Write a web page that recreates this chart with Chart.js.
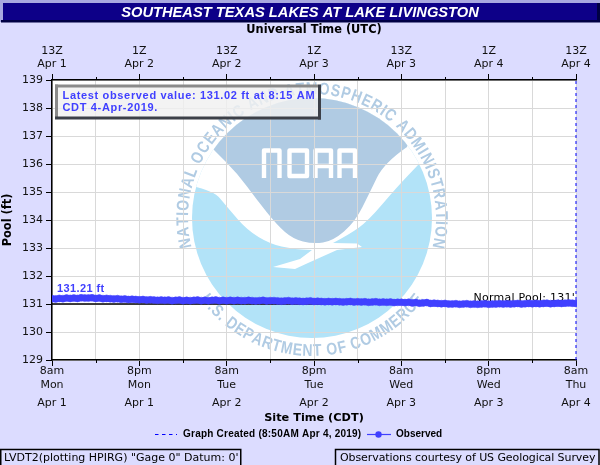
<!DOCTYPE html>
<html><head><meta charset="utf-8">
<style>html,body{margin:0;padding:0;background:#dcdcff}canvas{display:block}</style>
<script src="https://cdn.jsdelivr.net/npm/chart.js@4"></script></head>
<body><canvas id="c" width="600" height="465"></canvas>
<script>
const chartTitle="SOUTHEAST TEXAS LAKES AT LAKE LIVINGSTON";
const topTitle="Universal Time (UTC)";
const bottomTitle="Site Time (CDT)";
const yTitle="Pool (ft)";
const utcLabels=[["13Z","Apr 1"],["1Z","Apr 2"],["13Z","Apr 2"],["1Z","Apr 3"],["13Z","Apr 3"],["1Z","Apr 4"],["13Z","Apr 4"]];
const siteLabels=[["8am","Mon"],["8pm","Mon"],["8am","Tue"],["8pm","Tue"],["8am","Wed"],["8pm","Wed"],["8am","Thu"]];
const dateLabels=["Apr 1","Apr 1","Apr 2","Apr 2","Apr 3","Apr 3","Apr 4"];
// Pool level read every half hour from 8am Apr 1
const observed=[131.19,131.18,131.2,131.19,131.21,131.2,131.21,131.2,131.22,
131.21,131.21,131.22,131.2,131.21,131.19,131.2,131.19,
131.18,131.19,131.17,131.18,131.16,131.17,131.16,131.15,131.16,131.14,131.15,
131.14,131.13,131.14,131.13,131.14,131.12,131.13,131.14,131.12,131.13,131.12,131.13,131.14,131.12,131.13,131.12,131.13,131.14,131.12,131.13,131.12,131.13,131.12,131.13,131.12,131.12,131.13,131.12,131.11,131.12,131.13,131.11,131.12,
131.12,131.11,131.1,131.11,131.12,131.1,131.11,131.1,131.09,131.1,131.11,131.09,131.1,131.09,131.08,131.09,
131.08,131.09,131.08,131.07,131.08,131.09,131.07,131.08,131.07,131.08,131.06,131.07,131.08,131.06,131.07,131.06,131.07,131.05,131.06,131.06,
131.05,131.06,131.04,131.05,131.03,131.04,131.05,131.02,131.03,131.02,131.01,131.02,131.0,
131.0,131.01,130.99,131.0,131.01,130.99,131.0,130.99,131.0,131.01,130.99,131.0,131.0,131.01,
131.0,131.01,131.0,131.01,131.02,131.0,131.01,131.02,131.01,
131.02,131.01,131.02,131.03,131.01,131.02,131.03,131.02,131.03,131.04,131.03,131.02];
const normalPool=131;
const normalLabel="Normal Pool: 131'";
const firstLabel="131.21 ft";
const graphCreatedHour=72;
const latestLines=["Latest observed value: 131.02 ft at 8:15 AM","CDT 4-Apr-2019."];
const leftFooter="LVDT2(plotting HPIRG) \"Gage 0\" Datum: 0'";
const rightFooter="Observations courtesy of US Geological Survey";

const BG='#dcdcff', BLUE='#4040ff', DJ='"DejaVu Sans"', LB='"Liberation Sans"';

function smooth(ctx,p){ctx.lineTo(p[0][0],p[0][1]);
  for(let i=1;i<p.length-1;i++){ctx.quadraticCurveTo(p[i][0],p[i][1],(p[i][0]+p[i+1][0])/2,(p[i][1]+p[i+1][1])/2);}
  ctx.lineTo(p[p.length-1][0],p[p.length-1][1]);}
function drawLogo(ctx){
  const cx=312,cy=218,r=120;
  ctx.save();
  ctx.beginPath();ctx.arc(cx,cy,r,0,Math.PI*2);ctx.clip();
  ctx.fillStyle='#b2e3f8';ctx.fillRect(cx-r,cy-r,2*r,2*r);
  ctx.fillStyle='#fff';ctx.beginPath();ctx.moveTo(180,60);ctx.lineTo(180,186);
  smooth(ctx,[[190,186],[213,190],[228,208],[247,230],[270,244],[293,249],[312,250]]);
  ctx.lineTo(300,259);ctx.lineTo(273,267);ctx.lineTo(295,269);ctx.lineTo(308,263);ctx.lineTo(337,250);ctx.lineTo(362,247);ctx.lineTo(357,243.5);ctx.lineTo(333,243);
  smooth(ctx,[[333,243],[350,234],[368,221],[397,187],[418,165]]);
  ctx.lineTo(450,140);ctx.lineTo(450,60);ctx.closePath();ctx.fill();
  ctx.fillStyle='#b0cbe3';ctx.beginPath();ctx.moveTo(214,150);ctx.lineTo(200,90);ctx.lineTo(425,90);ctx.lineTo(407,147);
  smooth(ctx,[[407,147],[384,163],[370,192],[355,222],[333,241],[313,244],[293,239],[277,225],[257,200],[237,173],[214,150]]);
  ctx.closePath();ctx.fill();
  ctx.restore();
  ctx.save();ctx.strokeStyle='#fff';ctx.lineWidth=4.4;ctx.lineJoin='round';
  const a=(x0,x1,bar)=>{ctx.beginPath();ctx.moveTo(x0,178);ctx.lineTo(x0,150.5);ctx.lineTo(x1,150.5);ctx.lineTo(x1,178);if(bar){ctx.moveTo(x0,166);ctx.lineTo(x1,166);}ctx.stroke();};
  a(264,279.5,false);
  ctx.beginPath();ctx.rect(289.5,150.5,17.5,25.5);ctx.stroke();
  a(315.5,331,true);a(339.5,355,true);
  ctx.restore();
  ctx.save();ctx.fillStyle='#b0cbe3';ctx.textAlign='left';ctx.textBaseline='alphabetic';
  const ring=(txt,font,sx,rad,a0,a1,flip)=>{ctx.font=font;
    const ws=[...txt].map(ch=>ctx.measureText(ch).width*sx),tot=ws.reduce((s,w)=>s+w,0);
    const arc=Math.abs(a1-a0)*rad,gap=(arc-tot)/(txt.length-1);let s=0;
    [...txt].forEach((ch,i)=>{const m=s+ws[i]/2,t=flip?a0-m/rad:a0+m/rad;
      ctx.save();ctx.translate(cx+rad*Math.cos(t),cy+rad*Math.sin(t));
      ctx.rotate(flip?t-Math.PI/2:t+Math.PI/2);ctx.scale(sx,1);ctx.fillText(ch,-ws[i]/2/sx,0);ctx.restore();s+=ws[i]+gap;});};
  const d=Math.PI/180;
  ring("NATIONAL OCEANIC AND ATMOSPHERIC ADMINISTRATION",'bold 17px '+LB,.82,124,(180-13.6)*d,(360+13.6)*d,false);
  ring("U.S. DEPARTMENT OF COMMERCE",'bold 17px '+LB,.82,138,(90+54)*d,(90-54)*d,true);
  ctx.restore();
}
const chrome={id:'chrome',
  beforeDraw(ch){const c=ch.ctx,a=ch.chartArea;c.save();
    c.fillStyle=BG;c.fillRect(0,0,600,465);
    c.fillStyle='#a8a8e0';c.fillRect(0,0,600,3);c.fillRect(0,3,3,19);
    c.fillStyle='#000044';c.fillRect(1,20,599,2.5);c.fillRect(597,3,3,19);
    c.fillStyle='#0d0088';c.fillRect(3,3,594,17);
    c.fillStyle='#fff';c.font='italic bold 14.7px '+LB;c.textAlign='center';c.textBaseline='middle';
    c.fillText(chartTitle,300,12.5);
    c.fillStyle='#fff';c.fillRect(a.left,a.top,a.right-a.left,a.bottom-a.top);
    drawLogo(c);c.restore();},
  beforeDatasetsDraw(ch){const c=ch.ctx,s=ch.scales;c.save();
    c.fillStyle='#000';c.font='11px '+DJ;c.textAlign='right';c.textBaseline='middle';c.letterSpacing='0.25px';
    c.fillText(normalLabel,575,s.y.getPixelForValue(normalPool)-5.5);c.restore();},
  afterDatasetsDraw(ch){const c=ch.ctx;c.save();
    c.fillStyle=BLUE;c.font='bold 11px '+LB;c.textAlign='left';c.textBaseline='middle';
    c.letterSpacing='0.4px';
    c.fillText(firstLabel,57,288.5);
    c.restore();},
  afterDraw(ch){const c=ch.ctx,s=ch.scales;c.save();
    c.strokeStyle='#000';c.lineWidth=1;
    for(let h=6;h<72;h+=12){const x=Math.round(s.x.getPixelForValue(h))+.5;
      c.beginPath();c.moveTo(x,80);c.lineTo(x,77);c.moveTo(x,360);c.lineTo(x,363);c.stroke();}
    c.fillStyle='rgba(240,240,240,.82)';c.fillRect(55,85,266,34);
    c.fillStyle='#8a8a8a';c.fillRect(55,84.5,263,3);c.fillRect(55,84.5,3,34.5);
    c.fillStyle='#3c4048';c.fillRect(318,84.5,3,35);c.fillRect(55,116.5,266,3);
    c.fillStyle=BLUE;c.font='bold 11px '+LB;c.textAlign='left';c.textBaseline='middle';c.letterSpacing='0.66px';
    c.fillText(latestLines[0],62.5,96);c.fillText(latestLines[1],62.5,107.5);
    c.letterSpacing='0.23px';
    const ds=ch.data.datasets;
    c.strokeStyle='#0000ff';c.lineWidth=1;c.setLineDash([3.5,3.5]);c.beginPath();c.moveTo(155,434.5);c.lineTo(177,434.5);c.stroke();c.setLineDash([]);
    c.fillStyle='#000';c.font='bold 10px '+LB;c.textBaseline='middle';
    c.fillText(ds[2].label,183,434.5);
    c.letterSpacing='0px';
    c.strokeStyle=BLUE;c.lineWidth=1.2;c.beginPath();c.moveTo(367,434.5);c.lineTo(391,434.5);c.stroke();
    c.fillStyle=BLUE;c.beginPath();c.arc(378.5,434.5,3.2,0,Math.PI*2);c.fill();
    c.fillStyle='#000';c.fillText(ds[1].label,396,434.5);
    c.strokeStyle='#000';c.lineWidth=1.5;
    c.strokeRect(.75,449.5,240,17);c.strokeRect(335.5,449.5,263.5,17);
    c.fillStyle='#000';c.font='11px '+DJ;c.textBaseline='middle';
    c.fillText(leftFooter,4,458);c.letterSpacing='-0.09px';c.fillText(rightFooter,340,458);
    c.restore();}
};
const hours=observed.map((_,i)=>i*0.5);
const tickFont={family:DJ,size:11};
const labelAt=(arr)=>(v)=>v%12===0?arr[v/12]:'';
const timeAxis=(pos,labels,extra)=>Object.assign({type:'linear',position:pos,min:0,max:72,
  ticks:{stepSize:6,autoSkip:false,maxRotation:0,minRotation:0,color:'#111',font:tickFont,padding:3,callback:labelAt(labels)},
  grid:{drawOnChartArea:false,tickLength:6,tickColor:c=>c.tick.value%12===0?'#000':'rgba(0,0,0,0)',tickWidth:1},
  border:{color:'#000',width:1.5}},extra);
new Chart(document.getElementById('c'),{type:'line',
  data:{datasets:[
    {label:'Normal Pool',data:[{x:0,y:normalPool},{x:72,y:normalPool}],borderColor:'#000',borderWidth:1.6,pointRadius:0,order:3},
    {label:'Observed',data:observed.map((y,i)=>({x:hours[i],y})),borderColor:BLUE,backgroundColor:BLUE,borderWidth:5,pointRadius:3.5,pointBorderWidth:.5,pointBackgroundColor:BLUE,pointBorderColor:BLUE,tension:0,order:1,clip:{left:0,right:1,top:false,bottom:false}},
    {label:'Graph Created (8:50AM Apr 4, 2019)',data:[{x:graphCreatedHour,y:129},{x:graphCreatedHour,y:139}],borderColor:'#0000ff',borderWidth:1,borderDash:[3,3],pointRadius:0,order:2,clip:false}
  ]},
  plugins:[chrome],
  options:{responsive:false,animation:false,devicePixelRatio:1,
    layout:{padding:{left:0,right:24,top:22,bottom:40}},
    plugins:{legend:{display:false},tooltip:{enabled:false},title:{display:false}},
    scales:{
      x:timeAxis('bottom',siteLabels,{weight:0,afterFit(s){s.height=36;},
        grid:{drawOnChartArea:true,color:'#d9d9d9',lineWidth:1,tickLength:6,tickColor:c=>c.tick.value%12===0?'#000':'rgba(0,0,0,0)'},
        ticks:{stepSize:6,autoSkip:false,maxRotation:0,minRotation:0,color:'#111',font:{family:DJ,size:11,lineHeight:1.27},padding:-2,callback:labelAt(siteLabels)}}),
      x3:timeAxis('bottom',dateLabels,{weight:1,afterFit(s){s.height=29;},
        border:{display:false},grid:{display:false,drawTicks:false},
        ticks:{stepSize:6,autoSkip:false,maxRotation:0,minRotation:0,color:'#111',font:tickFont,padding:1,callback:labelAt(dateLabels)},
        title:{display:true,text:bottomTitle,color:'#000',font:{family:DJ,size:11.3,weight:'bold'},padding:0}}),
      x2:timeAxis('top',utcLabels,{afterFit(s){s.height=58;},
        title:{display:true,text:topTitle,color:'#000',font:{family:DJ,size:11.4,weight:'bold'},padding:{top:1,bottom:0}}}),
      y:{type:'linear',position:'left',min:129,max:139,afterFit(s){s.width=52;},
        ticks:{stepSize:1,color:'#111',font:{family:DJ,size:11},padding:3},
        grid:{color:'#d9d9d9',lineWidth:1,tickColor:'#000',tickLength:6},
        border:{color:'#000',width:1.5},
        title:{display:true,text:yTitle,color:'#000',font:{family:DJ,size:11.4,weight:'bold'},padding:{top:1,bottom:0}}}
    }}});
</script></body></html>
